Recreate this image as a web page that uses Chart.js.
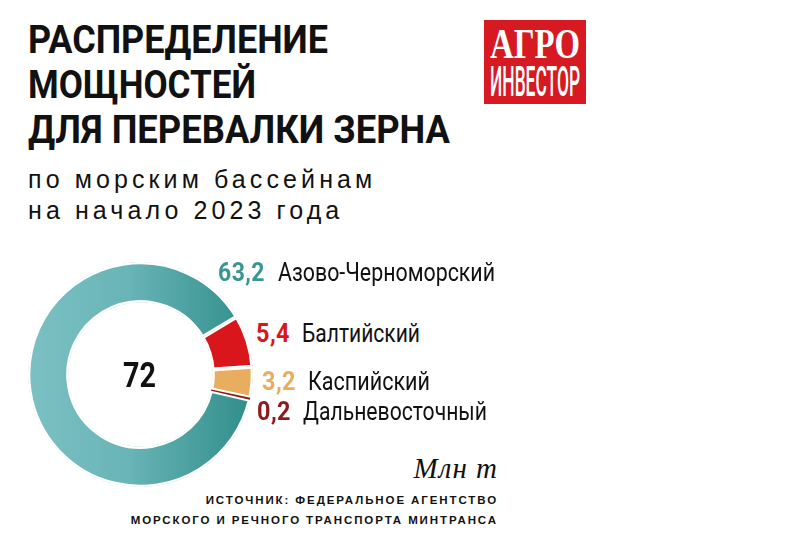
<!DOCTYPE html>
<html lang="ru">
<head>
<meta charset="utf-8">
<script src="https://cdn.jsdelivr.net/npm/chart.js@4/dist/chart.umd.min.js"></script>
<style>
  html, body { margin: 0; padding: 0; background: #fff; }
  body { width: 803px; height: 555px; position: relative; overflow: hidden;
         font-family: "Roboto", "Liberation Sans", sans-serif; color: #111; }
  .fit { position: absolute; white-space: nowrap; transform-origin: 0 0; }
  .title { font-weight: bold; font-size: 38px; line-height: 40px; }
  .subtitle { position: absolute; left: 28px; top: 164px; font-size: 25px; line-height: 31px;
              letter-spacing: 4.1px; font-family: "Liberation Sans", "Roboto", sans-serif; }
  .logo { position: absolute; left: 484px; top: 20px; width: 102px; height: 84px; background: #d71a21; color: #fff; }
  .logo .fit { color: #fff; }
  .logo .a { font-family: "Liberation Serif", "DejaVu Serif", serif; font-weight: bold; font-size: 42px; line-height: 36px; }
  .logo .b { font-size: 42px; line-height: 36px; font-weight: 500; }
  #wrap { position: absolute; left: 28px; top: 262px; width: 225px; height: 225px; }
  .center { font-weight: bold; font-size: 35px; line-height: 36px; }
  .num { font-weight: bold; font-size: 26px; line-height: 28px; letter-spacing: 0.5px; }
  .name { font-size: 26px; line-height: 28px; }
  .unit { position: absolute; left: 360px; top: 452px; width: 138px; text-align: right;
          font-family: "Liberation Serif", "DejaVu Serif", serif; font-style: italic; font-size: 29px; letter-spacing: 1px; }
  .source { position: absolute; left: 60px; top: 491px; width: 438px; text-align: right;
            font-family: "Liberation Sans", "Roboto", sans-serif; font-weight: bold; font-size: 11.5px;
            line-height: 19.5px; letter-spacing: 1.9px; }
</style>
</head>
<body>
<div class="fit title" style="left:28px;top:20px" data-w="300">РАСПРЕДЕЛЕНИЕ</div>
<div class="fit title" style="left:28px;top:65px" data-w="228">МОЩНОСТЕЙ</div>
<div class="fit title" style="left:28px;top:110px" data-w="422">ДЛЯ ПЕРЕВАЛКИ ЗЕРНА</div>
<div class="subtitle">по морским бассейнам<br>на начало 2023 года</div>
<div class="logo">
  <div class="fit a" style="left:6px;top:6px" data-w="90">АГРО</div>
  <div class="fit b" style="left:6px;top:44px" data-w="90">ИНВЕСТОР</div>
</div>
<div id="wrap"><canvas id="donut"></canvas></div>
<div class="fit center" id="total" style="left:123px;top:358px" data-w="33"></div>
<div id="labels"></div>
<div class="unit">Млн т</div>
<div class="source">ИСТОЧНИК: ФЕДЕРАЛЬНОЕ АГЕНТСТВО<br>МОРСКОГО И РЕЧНОГО ТРАНСПОРТА МИНТРАНСА</div>

<script>
// мощности по перевалке зерна на начало 2023 года, млн т
const basins = ['Азово-Черноморский', 'Балтийский', 'Каспийский', 'Дальневосточный'];
const capacity = [63.2, 5.4, 3.2, 0.2];
const valueText = ['63,2', '5,4', '3,2', '0,2'];
const totalText = '72';

const colors = ['#3a9692', '#d8161c', '#e9ad5f', '#8c1b1d'];

// где стоят подписи: число и название, целевая ширина
const labelLayout = [
    { y: 258, nx: 218, nw: 47, tx: 278, tw: 217 },
    { y: 319, nx: 256, nw: 34, tx: 302, tw: 118 },
    { y: 367, nx: 262, nw: 34, tx: 308, tw: 122 },
    { y: 397, nx: 257, nw: 34, tx: 303, tw: 184 }
];

document.getElementById('total').textContent = totalText;

const labelsBox = document.getElementById('labels');
basins.forEach((name, i) => {
    const p = labelLayout[i];
    const num = document.createElement('div');
    num.className = 'fit num';
    num.style.cssText = `left:${p.nx}px;top:${p.y}px;color:${colors[i]}`;
    num.dataset.w = p.nw;
    num.textContent = valueText[i];
    const txt = document.createElement('div');
    txt.className = 'fit name';
    txt.style.cssText = `left:${p.tx}px;top:${p.y}px`;
    txt.dataset.w = p.tw;
    txt.textContent = name;
    labelsBox.appendChild(num);
    labelsBox.appendChild(txt);
});

// сжимаем текст по ширине, как узкий шрифт в оригинале
document.querySelectorAll('.fit[data-w]').forEach(el => {
    const w = el.getBoundingClientRect().width;
    el.style.transform = `scaleX(${el.dataset.w / w})`;
});

function fillFor(ctx) {
    const i = ctx.dataIndex;
    if (i !== 0) return colors[i];
    const area = ctx.chart.chartArea;
    if (!area) return colors[0];
    const g = ctx.chart.ctx.createLinearGradient(area.left, 0, area.right, 0);
    g.addColorStop(0, '#7cc0c4');
    g.addColorStop(0.45, '#68b4b6');
    g.addColorStop(1, '#2f8d89');
    return g;
}

new Chart(document.getElementById('donut'), {
    type: 'doughnut',
    data: {
        labels: basins,
        datasets: [{
            data: capacity,
            backgroundColor: fillFor,
            borderColor: '#ffffff',
            borderWidth: [2, 2, 2, 0],
            borderAlign: 'inner',
            hoverOffset: 0
        }]
    },
    options: {
        responsive: true,
        maintainAspectRatio: false,
        animation: false,
        cutout: '64%',
        rotation: 103,
        layout: { padding: 0 },
        plugins: {
            legend: { display: false },
            tooltip: { enabled: false }
        }
    }
});
</script>
</body>
</html>
